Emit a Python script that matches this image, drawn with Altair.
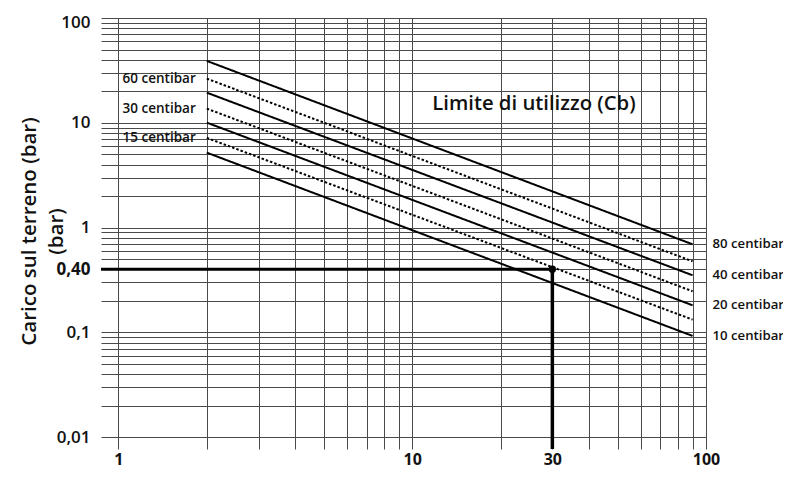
import altair as alt
import pandas as pd

# ---- data ----
series_names = ["80 centibar", "60 centibar", "40 centibar", "30 centibar",
                "20 centibar", "15 centibar", "10 centibar"]
series_style = ["solid", "dotted", "solid", "dotted", "solid", "dotted", "solid"]
x_start = 2
x_end = 90
y_at_start = [38.96, 26.4, 19.4, 13.66, 10.04, 7.18, 5.19]
y_at_end = [0.693, 0.477, 0.351, 0.247, 0.1815, 0.1325, 0.0926]

x_grid = [1, 2, 3, 4, 5, 6, 7, 8, 9, 10, 20, 30, 40, 50, 60, 70, 80, 90, 100]
y_grid = [0.01, 0.02, 0.03, 0.04, 0.05, 0.06, 0.07, 0.08, 0.09,
          0.1, 0.2, 0.3, 0.4, 0.5, 0.6, 0.7, 0.8, 0.9,
          1, 2, 3, 4, 5, 6, 7, 8, 9,
          10, 20, 30, 40, 50, 60, 70, 80, 90, 100]
x_label_vals = [1, 10, 30, 100]
x_label_txt = ["1", "10", "30", "100"]
y_label_vals = [100, 10, 1, 0.4, 0.1, 0.01]
y_label_txt = ["100", "10", "1", "0,40", "0,1", "0,01"]

x_domain = [0.873, 100]
y_domain = [0.00772, 100]

mark_x = 30
mark_y = 0.40

title_text = "Limite di utilizzo (Cb)"
title_x = 11.7
title_y = 15.2

FONT = "Open Sans"


def label_expr(vals, txts):
    expr = "''"
    for v, t in zip(reversed(vals), reversed(txts)):
        expr = f"abs(datum.value - {v}) < {v}*1e-6 ? '{t}' : ({expr})"
    return expr


rows = []
for n, s, a, b in zip(series_names, series_style, y_at_start, y_at_end):
    rows.append({"series": n, "style": s, "x": x_start, "y": a})
    rows.append({"series": n, "style": s, "x": x_end, "y": b})
lines_df = pd.DataFrame(rows)

left_lbl = pd.DataFrame([
    {"x": x_start, "y": a, "label": n}
    for n, s, a in zip(series_names, series_style, y_at_start) if s == "dotted"
])
right_lbl = pd.DataFrame([
    {"x": x_end, "y": b, "label": n}
    for n, s, b in zip(series_names, series_style, y_at_end) if s == "solid"
])

xscale = alt.Scale(type="log", domain=x_domain, nice=False)
yscale = alt.Scale(type="log", domain=y_domain, nice=False)

x_axis = alt.Axis(
    values=x_grid, grid=True, ticks=False, domain=False,
    labelExpr=label_expr(x_label_vals, x_label_txt),
    labelFont=FONT, labelFontSize=16, labelFontWeight=700, labelColor="#111",
    labelPadding=2, labelFlush=False, labelOverlap=False, title=None,
    gridColor="#4a4a4a", gridWidth=1,
)
y_axis = alt.Axis(
    values=y_grid, grid=True, ticks=False, domain=False,
    labelExpr=label_expr(y_label_vals, y_label_txt),
    labelFont=FONT, labelFontSize=17,
    labelFontWeight={"condition": {"test": "abs(datum.value - 0.4) < 1e-6", "value": 700}, "value": 600},
    labelOffset={"condition": {"test": "datum.value >= 99", "value": 4}, "value": 0},
    labelColor="#111",
    labelPadding=11, labelFlush=False, labelOverlap=False,
    title=["Carico sul terreno (bar)", "(bar)"],
    titleFont=FONT, titleFontSize=20.5, titleFontWeight=600, titleColor="#111",
    titleX=-62, titleY=213, titleLineHeight=27,
    gridColor="#4a4a4a", gridWidth=1,
)

base_lines = alt.Chart(lines_df).mark_line(color="black", strokeWidth=2).encode(
    x=alt.X("x:Q", scale=xscale, axis=x_axis),
    y=alt.Y("y:Q", scale=yscale, axis=y_axis),
    detail="series:N",
    strokeDash=alt.StrokeDash("style:N",
                              scale=alt.Scale(domain=["solid", "dotted"],
                                              range=[[1, 0], [2.5, 2]]),
                              legend=None),
)

ref_h = pd.DataFrame({"x": [x_domain[0]], "x2": [mark_x], "y": [mark_y]})
ref_v = pd.DataFrame({"x": [mark_x], "y": [y_domain[0]], "y2": [mark_y]})
ref_p = pd.DataFrame({"x": [mark_x], "y": [mark_y]})

h_rule = alt.Chart(ref_h).mark_rule(color="black", strokeWidth=3).encode(
    x=alt.X("x:Q", scale=xscale), x2="x2:Q", y=alt.Y("y:Q", scale=yscale))
v_rule = alt.Chart(ref_v).mark_rule(color="black", strokeWidth=3.5).encode(
    x=alt.X("x:Q", scale=xscale), y=alt.Y("y:Q", scale=yscale), y2="y2:Q")
dot = alt.Chart(ref_p).mark_point(filled=True, color="black", size=55, opacity=1).encode(
    x=alt.X("x:Q", scale=xscale), y=alt.Y("y:Q", scale=yscale))

left_text = alt.Chart(left_lbl).mark_text(
    align="right", baseline="middle", dx=-11, font=FONT, fontSize=13.5,
    fontWeight=600, color="#111").encode(
    x=alt.X("x:Q", scale=xscale), y=alt.Y("y:Q", scale=yscale), text="label:N")
right_text = alt.Chart(right_lbl).mark_text(
    align="left", baseline="middle", dx=20, font=FONT, fontSize=13.2,
    fontWeight=600, color="#111").encode(
    x=alt.X("x:Q", scale=xscale), y=alt.Y("y:Q", scale=yscale), text="label:N")

title_df = pd.DataFrame({"x": [title_x], "y": [title_y], "t": [title_text]})
title_mark = alt.Chart(title_df).mark_text(
    align="left", baseline="middle", font=FONT, fontSize=20.3, fontWeight=600,
    color="#111").encode(
    x=alt.X("x:Q", scale=xscale), y=alt.Y("y:Q", scale=yscale), text="t:N")

chart = alt.layer(base_lines, h_rule, v_rule, dot, left_text, right_text, title_mark).properties(
    width=605, height=431,
    autosize=alt.AutoSizeParams(type="none"),
    padding={"left": 93, "top": 10, "right": 77, "bottom": 20},
    background="white",
).configure_view(stroke=None)

chart.save("out.html", embed_options={"renderer": "svg", "actions": False})
